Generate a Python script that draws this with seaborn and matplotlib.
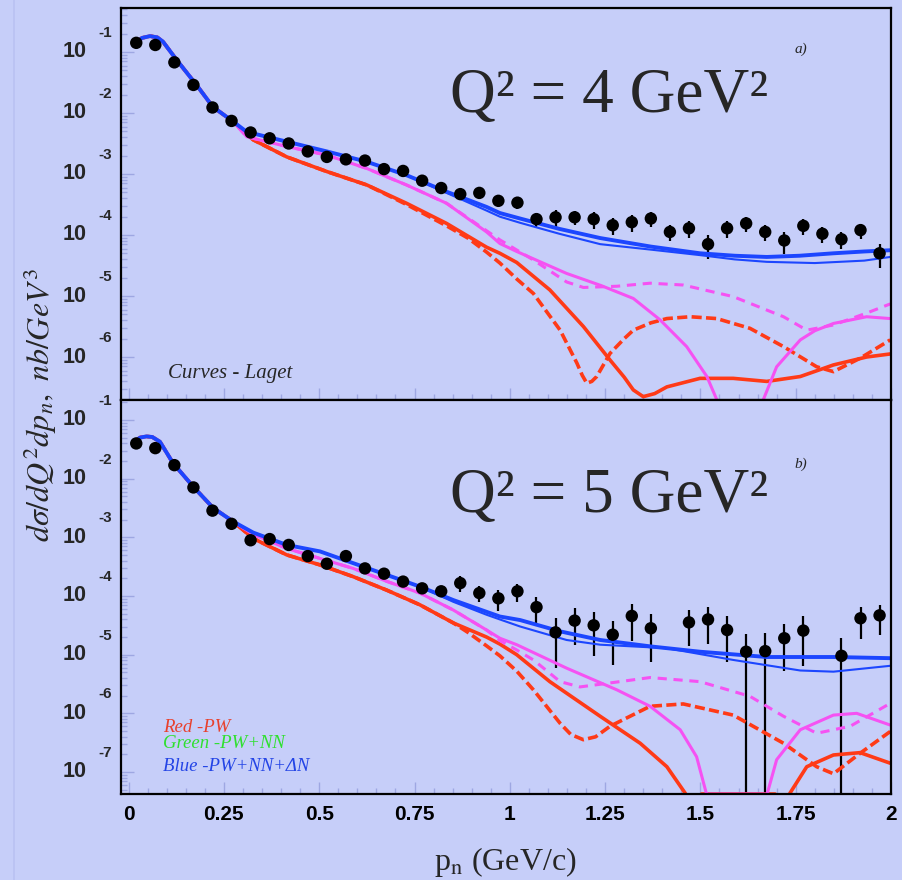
import numpy as np
import pandas as pd
import matplotlib
matplotlib.use("Agg")
import matplotlib.pyplot as plt
import matplotlib.transforms as mtransforms
from matplotlib.ticker import FixedLocator, LogLocator, NullFormatter, FixedFormatter
import seaborn as sns

# ---------------- data (y given as log10) ----------------
p_points = [0.02, 0.07, 0.12, 0.17, 0.22, 0.27, 0.32, 0.37, 0.42, 0.47,
            0.52, 0.57, 0.62, 0.67, 0.72, 0.77, 0.82, 0.87, 0.92, 0.97,
            1.02, 1.07, 1.12, 1.17, 1.22, 1.27, 1.32, 1.37, 1.42, 1.47,
            1.52, 1.57, 1.62, 1.67, 1.72, 1.77, 1.82, 1.87, 1.92, 1.97]

# panel a (Q2 = 4 GeV2)
a_log = [-0.85, -0.885, -1.17, -1.54, -1.91, -2.13, -2.32, -2.415, -2.50, -2.63,
         -2.72, -2.76, -2.78, -2.92, -2.95, -3.11, -3.23, -3.33, -3.31, -3.44,
         -3.47, -3.74, -3.71, -3.71, -3.74, -3.84, -3.79, -3.73, -3.95, -3.89,
         -4.15, -3.89, -3.81, -3.95, -4.09, -3.85, -3.98, -4.07, -3.92, -4.30]
a_err = [0.08, 0.08, 0.08, 0.08, 0.08, 0.08, 0.08, 0.08, 0.08, 0.08,
         0.08, 0.08, 0.08, 0.08, 0.08, 0.12, 0.12, 0.12, 0.15, 0.15,
         0.20, 0.28, 0.30, 0.25, 0.30, 0.30, 0.30, 0.28, 0.30, 0.30,
         0.42, 0.30, 0.28, 0.30, 0.40, 0.28, 0.30, 0.30, 0.28, 0.42]

# panel b (Q2 = 5 GeV2)
b_log = [-1.40, -1.48, -1.77, -2.15, -2.545, -2.77, -3.05, -3.03, -3.13, -3.32,
         -3.45, -3.32, -3.53, -3.62, -3.755, -3.87, -3.92, -3.78, -3.95, -4.04,
         -3.92, -4.19, -4.62, -4.42, -4.50, -4.66, -4.34, -4.55, np.nan, -4.45,
         -4.40, -4.58, -4.95, -4.94, -4.72, -4.59, np.nan, -5.02, -4.38, -4.33]
b_err = [0.08, 0.08, 0.08, 0.08, 0.08, 0.08, 0.08, 0.08, 0.08, 0.08,
         0.08, 0.08, 0.08, 0.15, 0.20, 0.20, 0.20, 0.30, 0.30, 0.40,
         0.35, 0.50, 0.75, 0.62, 0.70, 0.70, 0.62, 0.73, np.nan, 0.60,
         0.62, 0.72, 1.00, 1.00, 0.72, 0.75, np.nan, 1.05, 0.55, 0.53]

NEG = -np.inf  # curve value <= 0 (drawn on the axis floor, as in the original)

# ---- Laget curves, panel a ----
a_start_p = [0.024, 0.035, 0.056, 0.075, 0.09, 0.126, 0.178, 0.221, 0.274]
a_start_l = [-0.83, -0.77, -0.74, -0.76, -0.83, -1.13, -1.54, -1.90, -2.14]

a_blue_p = [0.31, 0.415, 0.52, 0.625, 0.729, 0.834, 0.939, 0.974, 1.027, 1.13, 1.237, 1.37, 1.499, 1.59, 1.674, 1.76, 1.849, 1.93, 1.998]
a_blue_l = [-2.31, -2.47, -2.63, -2.80, -3.02, -3.29, -3.54, -3.64, -3.73, -3.90, -4.05, -4.19, -4.30, -4.34, -4.36, -4.34, -4.30, -4.27, -4.25]
a_blue2_p = [0.31, 0.415, 0.52, 0.625, 0.729, 0.834, 0.939, 0.974, 1.027, 1.13, 1.237, 1.37, 1.499, 1.59, 1.674, 1.80, 1.93, 1.998]
a_blue2_l = [-2.31, -2.47, -2.63, -2.80, -3.02, -3.31, -3.60, -3.70, -3.80, -3.98, -4.15, -4.24, -4.33, -4.40, -4.44, -4.46, -4.42, -4.36]
a_mag_p = [0.31, 0.415, 0.52, 0.625, 0.729, 0.834, 0.939, 0.974, 1.018, 1.149, 1.24, 1.324, 1.394, 1.464, 1.517, 1.543, 1.56, 1.586, 1.62, 1.649, 1.657, 1.665, 1.70, 1.762, 1.80, 1.849, 1.936, 1.998]
a_mag_l = [-2.39, -2.55, -2.69, -2.91, -3.18, -3.48, -3.95, -4.14, -4.27, -4.63, -4.83, -5.04, -5.39, -5.83, -6.32, -6.70, -7.3, NEG, NEG, NEG, -7.3, -6.70, -6.16, -5.72, -5.57, -5.45, -5.34, -5.37]
a_magd_p = [0.31, 0.415, 0.52, 0.625, 0.729, 0.834, 0.939, 0.974, 1.062, 1.149, 1.193, 1.281, 1.368, 1.455, 1.586, 1.718, 1.779, 1.849, 1.936, 1.998]
a_magd_l = [-2.39, -2.55, -2.69, -2.91, -3.18, -3.48, -3.93, -4.08, -4.41, -4.77, -4.86, -4.84, -4.79, -4.82, -5.01, -5.34, -5.56, -5.475, -5.28, -5.13]
a_red_p = [0.327, 0.415, 0.52, 0.625, 0.729, 0.834, 0.939, 0.974, 1.018, 1.105, 1.193, 1.263, 1.30, 1.324, 1.35, 1.38, 1.412, 1.499, 1.586, 1.674, 1.762, 1.849, 1.936, 1.998]
a_red_l = [-2.44, -2.72, -2.96, -3.18, -3.48, -3.81, -4.20, -4.30, -4.45, -4.90, -5.50, -6.05, -6.33, -6.54, -6.65, -6.60, -6.49, -6.35, -6.35, -6.40, -6.32, -6.13, -6.00, -5.95]
a_redd_p = [0.327, 0.415, 0.52, 0.625, 0.729, 0.834, 0.89, 0.939, 0.974, 1.018, 1.062, 1.132, 1.176, 1.19, 1.202, 1.215, 1.228, 1.263, 1.30, 1.324, 1.37, 1.412, 1.473, 1.543, 1.63, 1.718, 1.805, 1.849, 1.919, 1.998]
a_redd_l = [-2.44, -2.72, -2.96, -3.18, -3.50, -3.85, -4.05, -4.28, -4.46, -4.72, -4.96, -5.56, -6.10, -6.30, -6.43, -6.40, -6.32, -5.94, -5.70, -5.56, -5.44, -5.37, -5.34, -5.37, -5.53, -5.83, -6.16, -6.24, -6.02, -5.72]

# ---- Laget curves, panel b ----
b_start_p = [0.015, 0.03, 0.047, 0.062, 0.082, 0.117, 0.170, 0.222, 0.274]
b_start_l = [-1.37, -1.30, -1.28, -1.29, -1.37, -1.74, -2.14, -2.50, -2.73]

b_blue_p = [0.327, 0.415, 0.502, 0.589, 0.677, 0.764, 0.852, 0.939, 0.974, 1.027, 1.13, 1.237, 1.37, 1.499, 1.674, 1.849, 1.998]
b_blue_l = [-2.92, -3.13, -3.24, -3.44, -3.64, -3.84, -4.07, -4.27, -4.35, -4.41, -4.60, -4.75, -4.86, -4.95, -5.04, -5.04, -5.06]
b_blue2_p = [0.327, 0.415, 0.502, 0.589, 0.677, 0.764, 0.852, 0.939, 0.974, 1.027, 1.149, 1.237, 1.412, 1.586, 1.762, 1.849, 1.998]
b_blue2_l = [-2.92, -3.13, -3.24, -3.44, -3.64, -3.84, -4.10, -4.32, -4.40, -4.52, -4.75, -4.83, -4.89, -5.09, -5.27, -5.29, -5.19]
b_mag_p = [0.327, 0.415, 0.502, 0.589, 0.677, 0.764, 0.852, 0.939, 0.974, 1.018, 1.149, 1.281, 1.368, 1.447, 1.490, 1.517, 1.52, 1.60, 1.67, 1.674, 1.70, 1.762, 1.849, 1.910, 1.998]
b_mag_l = [-2.95, -3.19, -3.36, -3.53, -3.75, -3.95, -4.24, -4.58, -4.72, -4.83, -5.23, -5.60, -5.88, -6.28, -6.74, -7.40, NEG, NEG, NEG, -7.40, -6.79, -6.28, -6.03, -6.00, -6.20]
b_magd_p = [0.327, 0.415, 0.502, 0.589, 0.677, 0.764, 0.852, 0.939, 0.974, 1.018, 1.062, 1.132, 1.184, 1.254, 1.368, 1.499, 1.63, 1.718, 1.805, 1.893, 1.998]
b_magd_l = [-2.95, -3.19, -3.36, -3.53, -3.75, -3.95, -4.24, -4.58, -4.76, -4.92, -5.09, -5.46, -5.55, -5.49, -5.39, -5.46, -5.71, -6.05, -6.34, -6.22, -5.83]
b_red_p = [0.327, 0.415, 0.502, 0.589, 0.677, 0.764, 0.852, 0.939, 0.974, 1.018, 1.105, 1.237, 1.342, 1.412, 1.460, 1.48, 1.503, 1.60, 1.696, 1.72, 1.735, 1.779, 1.849, 1.919, 1.998]
b_red_l = [-3.02, -3.30, -3.47, -3.67, -3.90, -4.15, -4.46, -4.70, -4.82, -5.00, -5.46, -6.05, -6.51, -6.91, -7.36, -7.70, NEG, NEG, NEG, -7.70, -7.36, -6.91, -6.71, -6.67, -6.85]
b_redd_p = [0.327, 0.415, 0.502, 0.589, 0.677, 0.764, 0.852, 0.89, 0.939, 0.974, 1.018, 1.062, 1.132, 1.16, 1.193, 1.225, 1.263, 1.368, 1.455, 1.586, 1.718, 1.805, 1.849, 1.919, 1.998]
b_redd_l = [-3.02, -3.30, -3.47, -3.67, -3.90, -4.15, -4.46, -4.62, -4.85, -5.02, -5.28, -5.60, -6.17, -6.36, -6.45, -6.40, -6.22, -5.88, -5.84, -6.03, -6.51, -6.91, -7.03, -6.68, -6.31]

panel_labels = ["a)", "b)"]
q2_labels = ["Q\u00b2 = 4 GeV\u00b2", "Q\u00b2 = 5 GeV\u00b2"]
xtick_vals = [0, 0.25, 0.5, 0.75, 1, 1.25, 1.5, 1.75, 2]
xtick_labels = ["0", "0.25", "0.5", "0.75", "1", "1.25", "1.5", "1.75", "2"]
a_exps = [-1, -2, -3, -4, -5, -6]
b_exps = [-1, -2, -3, -4, -5, -6, -7]

# ---------------- style ----------------
BG = "#c6cef9"
TICK = "#9ea7e2"
RED = "#ff3a17"
MAG = "#f552f2"
BLUE = "#1c46ff"

sns.set_theme(style="white")
plt.rcParams["font.family"] = ["Liberation Serif", "DejaVu Sans"]
plt.rcParams["mathtext.fontset"] = "stix"

W, H = 903, 880
fig = plt.figure(figsize=(W / 100, H / 100), dpi=100, facecolor=BG)
fig.add_artist(plt.Line2D([14 / W, 14 / W], [0, 1], transform=fig.transFigure,
                          color="#b9c1f2", lw=1.2))

L, R = 121, 891
ax_a = fig.add_axes([L / W, 1 - 400.5 / H, (R - L) / W, 392.5 / H])
ax_b = fig.add_axes([L / W, 1 - 794 / H, (R - L) / W, 393.5 / H])

ylims = [(10 ** -6.713, 10 ** -0.279), (10 ** -7.375, 10 ** -0.668)]


def to_lin(vals, floor):
    v = 10.0 ** np.asarray(vals, dtype=float)
    return np.where(v > 0, v, floor)


def curve(ax, p, l, floor, color, lw, ls="-"):
    df = pd.DataFrame({"p": p, "y": to_lin(l, floor)})
    sns.lineplot(data=df, x="p", y="y", ax=ax, color=color, lw=lw, linestyle=ls,
                 estimator=None, sort=False, legend=False)


panels = [
    (ax_a, a_log, a_err, a_start_p, a_start_l,
     [(a_redd_p, a_redd_l, RED, 2.6, (0, (2.8, 1.2))),
      (a_red_p, a_red_l, RED, 2.6, "-"),
      (a_magd_p, a_magd_l, MAG, 2.2, (0, (3.0, 2.2))),
      (a_mag_p, a_mag_l, MAG, 2.2, "-"),
      (a_blue2_p, a_blue2_l, BLUE, 1.5, "-"),
      (a_blue_p, a_blue_l, BLUE, 2.8, "-")], a_exps),
    (ax_b, b_log, b_err, b_start_p, b_start_l,
     [(b_redd_p, b_redd_l, RED, 2.6, (0, (2.8, 1.2))),
      (b_red_p, b_red_l, RED, 2.6, "-"),
      (b_magd_p, b_magd_l, MAG, 2.2, (0, (3.0, 2.2))),
      (b_mag_p, b_mag_l, MAG, 2.2, "-"),
      (b_blue2_p, b_blue2_l, BLUE, 1.5, "-"),
      (b_blue_p, b_blue_l, BLUE, 2.8, "-")], b_exps),
]

for i, (ax, ylog, yerr, sp, sl, curves, exps) in enumerate(panels):
    ax.set_facecolor(BG)
    ax.set_yscale("log")
    ax.set_xlim(-0.02, 2.0)
    ax.set_ylim(*ylims[i])
    floor = ylims[i][0]

    # data points with error bars
    y = 10.0 ** np.asarray(ylog, dtype=float)
    e = np.asarray(yerr, dtype=float) * y
    lo = np.where(y - e > 0, y - e, floor * 0.5)
    ax.vlines(p_points, lo, y + e, color="black", lw=1.6, zorder=2)
    pts = pd.DataFrame({"p": p_points, "y": y}).dropna()
    sns.scatterplot(data=pts, x="p", y="y", ax=ax, color="black", s=80,
                    edgecolor="none", zorder=3, legend=False)

    # theory curves (common low-momentum part + individual tails)
    for cp, cl, col, lw, ls in curves:
        curve(ax, list(sp) + list(cp), list(sl) + list(cl), floor, col, lw, ls)

    # axes styling
    for s in ax.spines.values():
        s.set_color("black")
        s.set_linewidth(1.6)
        s.set_visible(True)
    ax.set_xlabel("")
    ax.set_ylabel("")
    ax.xaxis.set_major_locator(FixedLocator(xtick_vals))
    ax.xaxis.set_minor_locator(FixedLocator([k * 0.05 for k in range(41)]))
    ax.yaxis.set_major_locator(LogLocator(base=10, numticks=20))
    ax.yaxis.set_minor_locator(LogLocator(base=10, subs=range(2, 10), numticks=20))
    ax.yaxis.set_minor_formatter(NullFormatter())
    ax.tick_params(which="both", direction="in", color=TICK, width=1,
                   left=True, bottom=True, top=False, right=False,
                   labelleft=False)
    ax.tick_params(which="major", length=9)
    ax.tick_params(which="minor", length=4.5)
    if i == 0:
        ax.tick_params(labelbottom=False)
    else:
        ax.xaxis.set_major_formatter(FixedFormatter(xtick_labels))
        ax.tick_params(axis="x", labelbottom=True, pad=8)
        for t in ax.get_xticklabels():
            t.set_fontfamily("Liberation Sans")
            t.set_fontweight("bold")
            t.set_fontsize(15)
            t.set_color("black")

    # ROOT-style y tick labels: "10" with exponent above right
    trans = mtransforms.blended_transform_factory(ax.transAxes, ax.transData)
    trans_up = mtransforms.offset_copy(trans, fig=fig, x=0, y=19 * 0.72, units="points")
    for ex in exps:
        ax.text((75 - L) / (R - L), 10.0 ** ex, "10", transform=trans, ha="center",
                va="center", fontsize=15.5, fontweight="bold", family="Liberation Sans",
                clip_on=False)
        ax.text((105 - L) / (R - L), 10.0 ** ex, str(ex), transform=trans_up,
                ha="center", va="center", fontsize=11, fontweight="bold",
                family="Liberation Sans", clip_on=False)

# annotations
ax_a.text(0.427, 0.735, q2_labels[0], transform=ax_a.transAxes, fontsize=45.5,
          family="Liberation Serif", va="baseline", ha="left")
ax_b.text(0.427, 0.717, q2_labels[1], transform=ax_b.transAxes, fontsize=45.5,
          family="Liberation Serif", va="baseline", ha="left")
ax_a.text(0.875, 0.885, panel_labels[0], transform=ax_a.transAxes, fontsize=11,
          style="italic", family="Liberation Serif", va="baseline")
ax_b.text(0.875, 0.828, panel_labels[1], transform=ax_b.transAxes, fontsize=11,
          style="italic", family="Liberation Serif", va="baseline")
ax_a.text(0.061, 0.057, "Curves - Laget", transform=ax_a.transAxes, fontsize=15,
          style="italic", family="Liberation Serif", va="baseline")
ax_b.text(0.0545, 0.158, "Red -PW", transform=ax_b.transAxes, fontsize=13.5,
          style="italic", family="Liberation Serif", va="baseline", color="#e8402c")
ax_b.text(0.0545, 0.117, "Green -PW+NN", transform=ax_b.transAxes, fontsize=13.5,
          style="italic", family="Liberation Serif", va="baseline", color="#2fe02f")
ax_b.text(0.0545, 0.058, "Blue -PW+NN+\u0394N", transform=ax_b.transAxes, fontsize=13.5,
          style="italic", family="Liberation Serif", va="baseline", color="#2344e6")

fig.text(40 / W, 1 - 405 / H, r"$d\sigma/dQ^{2}dp_{n},\ nb/GeV^{3}$", rotation=90,
         ha="center", va="center", fontsize=23)
fig.text(505 / W, 1 - 870 / H, r"p$_{\mathrm{n}}$ (GeV/c)", ha="center", va="baseline",
         fontsize=23, family="Liberation Serif")

fig.savefig("out.png", dpi=100, facecolor=BG)
